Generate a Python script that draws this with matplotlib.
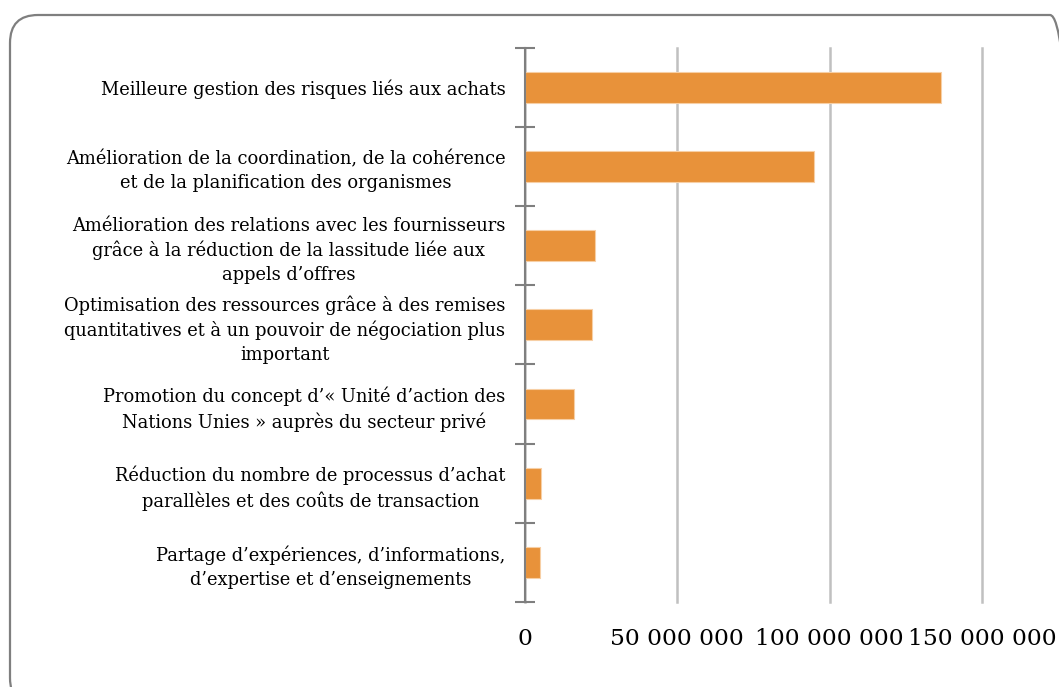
import matplotlib
matplotlib.use("Agg")
import matplotlib.pyplot as plt
from matplotlib.patches import FancyBboxPatch
from matplotlib.transforms import IdentityTransform
from matplotlib.ticker import FuncFormatter, FixedLocator

categories = [
    "Meilleure gestion des risques liés aux achats",
    "Amélioration de la coordination, de la cohérence\net de la planification des organismes",
    "Amélioration des relations avec les fournisseurs\ngrâce à la réduction de la lassitude liée aux\nappels d’offres",
    "Optimisation des ressources grâce à des remises\nquantitatives et à un pouvoir de négociation plus\nimportant",
    "Promotion du concept d’« Unité d’action des\nNations Unies » auprès du secteur privé",
    "Réduction du nombre de processus d’achat\nparallèles et des coûts de transaction",
    "Partage d’expériences, d’informations,\nd’expertise et d’enseignements",
]
values = [136_600_000, 94_900_000, 23_000_000, 22_000_000, 16_000_000, 5_300_000, 4_900_000]
xticks = [0, 50_000_000, 100_000_000, 150_000_000]

plt.rcParams['font.family'] = ['DejaVu Serif']

fig = plt.figure(figsize=(10.59, 6.87), dpi=100)
ax = fig.add_axes([525/1059, 1-602/687, (982-525)/1059, (602-47.5)/687])

n = len(categories)
ypos = list(range(n))
ax.barh(ypos, values, height=0.39, color='#E8923A', edgecolor='#F7CFA5', linewidth=0.8, zorder=3)
ax.set_ylim(n - 0.5, -0.5)
ax.set_xlim(0, 150_000_000)

ax.xaxis.set_major_locator(FixedLocator(xticks))
ax.xaxis.set_major_formatter(FuncFormatter(lambda v, p: f"{int(v):,}".replace(",", " ")))
ax.grid(axis='x', color='#C0C0C0', linewidth=1.8, zorder=0)
for gl in ax.get_xgridlines():
    gl.set_clip_on(False)
ax.tick_params(axis='x', length=0, labelsize=16.8, pad=19)

# y-axis: category separators as major ticks, labels as minor ticks
ax.yaxis.set_major_locator(FixedLocator([i - 0.5 for i in range(n + 1)]))
ax.yaxis.set_major_formatter(FuncFormatter(lambda v, p: ""))
ax.yaxis.set_minor_locator(FixedLocator(ypos))
ax.set_yticklabels(categories, minor=True, fontsize=12.9, ha='right',
                   multialignment='center', linespacing=1.4)
ax.tick_params(axis='y', which='major', direction='inout', length=14, width=1.5, color='#7F7F7F')
ax.tick_params(axis='y', which='minor', direction='in', length=7, width=1.5, color='#7F7F7F', pad=14)

for s in ['top', 'right', 'bottom']:
    ax.spines[s].set_visible(False)
ax.spines['left'].set_color('#7F7F7F')
ax.spines['left'].set_linewidth(1.5)
ax.spines['left'].set_zorder(4)

# rounded chart border (pixel coordinates)
border = FancyBboxPatch((10, -19), 1068, 691,
                        boxstyle="round,pad=0,rounding_size=28",
                        transform=IdentityTransform(), facecolor='none',
                        edgecolor='#7F7F7F', linewidth=1.6, clip_on=False)
fig.patches.append(border)

fig.savefig("out.png", dpi=100)
